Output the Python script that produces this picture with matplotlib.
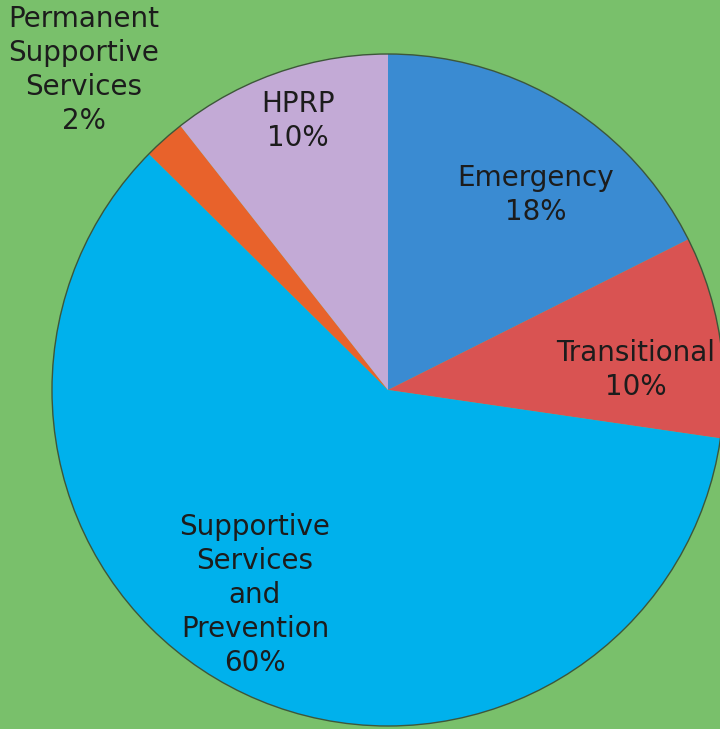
import matplotlib
matplotlib.use("Agg")
import matplotlib.pyplot as plt
from matplotlib.patches import Circle

categories = ["Emergency", "Transitional", "Supportive\nServices\nand\nPrevention",
              "Permanent\nSupportive\nServices", "HPRP"]
values = [17.6, 9.7, 60.1, 2.0, 10.6]
pct_labels = ["18%", "10%", "60%", "2%", "10%"]
colors = ["#3a8bd2", "#d95352", "#00b1ec", "#e8622b", "#c3aad6"]

W, H = 720, 729
fig = plt.figure(figsize=(W / 100, H / 100), dpi=100, facecolor="#79c06b")
ax = fig.add_axes([0, 0, 1, 1])
ax.set_facecolor("#79c06b")

cx, cy, r = 388, H - 390, 336
ax.pie(values, colors=colors, startangle=90, counterclock=False,
       center=(cx, cy), radius=r, frame=True,
       wedgeprops=dict(linewidth=0))
ax.add_patch(Circle((cx, cy), r, fill=False, edgecolor="#3d573a", linewidth=1.0))

ax.set_xlim(0, W)
ax.set_ylim(0, H)
ax.set_aspect("equal")
ax.axis("off")

label_pos = [(536, 195), (636, 370), (255, 595), (84, 70), (298, 121)]
for name, pct, (x, y) in zip(categories, pct_labels, label_pos):
    ax.text(x, H - y, f"{name}\n{pct}", ha="center", va="center",
            fontsize=20, color="#1c1c1c", family="DejaVu Sans",
            linespacing=1.27)

fig.savefig("out.png", dpi=100, facecolor=fig.get_facecolor())
